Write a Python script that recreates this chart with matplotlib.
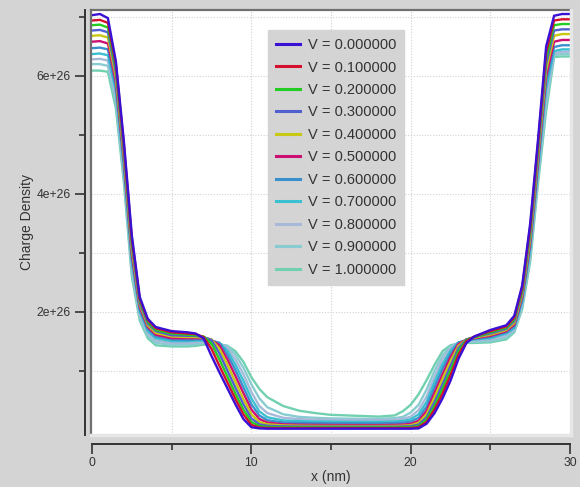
import matplotlib
matplotlib.use("Agg")
import matplotlib.pyplot as plt
from matplotlib.lines import Line2D
import numpy as np

plt.rcParams['font.family'] = ['Liberation Sans', 'DejaVu Sans']

# ---------------- data ----------------
x_nm = [0, 0.5, 1.0, 1.5, 2.0, 2.5, 3.0, 3.5, 4.0, 5.0, 6.0, 6.5, 7.0, 7.5, 8.0, 8.5,
        9.0, 9.5, 10.0, 10.5, 11.0, 12.0, 13.0, 14.0, 15.0, 16.0, 17.0, 18.0, 19.0,
        19.5, 20.0, 20.5, 21.0, 21.5, 22.0, 22.5, 23.0, 23.5, 24.0, 25.0, 26.0, 26.5,
        27.0, 27.5, 28.0, 28.5, 29.0, 29.5, 30.0]

voltages = [0.0, 0.1, 0.2, 0.3, 0.4, 0.5, 0.6, 0.7, 0.8, 0.9, 1.0]
series_labels = ["V = %.6f" % v for v in voltages]

# charge density in units of 1e26, one column per x position, rows = V index
cols = [
    [7.03, 6.94, 6.86, 6.77, 6.68, 6.58, 6.47, 6.37, 6.28, 6.20, 6.09],   # 0
    [7.05, 6.95, 6.87, 6.78, 6.69, 6.59, 6.48, 6.38, 6.29, 6.20, 6.09],   # 0.5
    [6.98, 6.90, 6.82, 6.74, 6.65, 6.55, 6.45, 6.35, 6.26, 6.17, 6.07],   # 1.0
    [6.25, 6.20, 6.13, 6.06, 5.98, 5.90, 5.82, 5.74, 5.65, 5.55, 5.45],   # 1.5
    [4.90, 4.84, 4.78, 4.72, 4.65, 4.58, 4.51, 4.44, 4.37, 4.29, 4.20],   # 2.0
    [3.30, 3.24, 3.18, 3.12, 3.05, 2.98, 2.91, 2.84, 2.76, 2.68, 2.60],   # 2.5
    [2.25, 2.22, 2.19, 2.15, 2.12, 2.08, 2.04, 2.00, 1.95, 1.90, 1.85],   # 3.0
    [1.88, 1.86, 1.83, 1.80, 1.77, 1.74, 1.71, 1.67, 1.63, 1.59, 1.55],   # 3.5
    [1.74, 1.72, 1.69, 1.67, 1.64, 1.61, 1.58, 1.55, 1.51, 1.47, 1.43],   # 4.0
    [1.67, 1.65, 1.63, 1.60, 1.58, 1.55, 1.53, 1.50, 1.47, 1.44, 1.41],   # 5.0
    [1.65, 1.63, 1.61, 1.59, 1.57, 1.55, 1.52, 1.50, 1.47, 1.44, 1.41],   # 6.0
    [1.63, 1.62, 1.60, 1.59, 1.57, 1.55, 1.53, 1.51, 1.48, 1.45, 1.42],   # 6.5
    [1.55, 1.57, 1.58, 1.57, 1.56, 1.55, 1.53, 1.51, 1.49, 1.47, 1.44],   # 7.0
    [1.25, 1.37, 1.46, 1.52, 1.53, 1.52, 1.51, 1.50, 1.49, 1.47, 1.45],   # 7.5
    [0.97, 1.08, 1.19, 1.29, 1.37, 1.43, 1.47, 1.47, 1.46, 1.45, 1.44],   # 8.0
    [0.70, 0.80, 0.90, 1.00, 1.10, 1.19, 1.27, 1.34, 1.39, 1.42, 1.42],   # 8.5
    [0.43, 0.52, 0.61, 0.71, 0.81, 0.91, 1.01, 1.10, 1.19, 1.27, 1.33],   # 9.0
    [0.18, 0.26, 0.34, 0.43, 0.52, 0.62, 0.72, 0.83, 0.94, 1.05, 1.15],   # 9.5
    [0.04, 0.08, 0.13, 0.19, 0.26, 0.34, 0.43, 0.53, 0.64, 0.77, 0.89],   # 10.0
    [0.02, 0.035, 0.06, 0.09, 0.13, 0.18, 0.24, 0.31, 0.40, 0.53, 0.69],  # 10.5
    [0.015, 0.028, 0.045, 0.065, 0.09, 0.12, 0.16, 0.21, 0.28, 0.38, 0.55],  # 11
    [0.015, 0.027, 0.040, 0.055, 0.070, 0.090, 0.120, 0.155, 0.200, 0.260, 0.40],  # 12
    [0.015, 0.027, 0.040, 0.052, 0.065, 0.083, 0.113, 0.143, 0.178, 0.215, 0.32],  # 13
    [0.015, 0.027, 0.039, 0.050, 0.062, 0.080, 0.109, 0.137, 0.168, 0.200, 0.28],  # 14
    [0.015, 0.027, 0.039, 0.050, 0.061, 0.078, 0.107, 0.134, 0.163, 0.190, 0.25],  # 15
    [0.015, 0.027, 0.038, 0.049, 0.060, 0.077, 0.105, 0.131, 0.160, 0.186, 0.24],  # 16
    [0.015, 0.026, 0.038, 0.049, 0.060, 0.076, 0.104, 0.130, 0.158, 0.183, 0.23],  # 17
    [0.015, 0.026, 0.038, 0.049, 0.060, 0.076, 0.104, 0.130, 0.158, 0.183, 0.22],  # 18
    [0.015, 0.027, 0.039, 0.050, 0.062, 0.080, 0.110, 0.137, 0.167, 0.195, 0.24],  # 19
    [0.015, 0.027, 0.040, 0.052, 0.065, 0.085, 0.117, 0.147, 0.180, 0.215, 0.31],  # 19.5
    [0.015, 0.028, 0.042, 0.057, 0.074, 0.098, 0.135, 0.175, 0.220, 0.290, 0.42],  # 20
    [0.02, 0.04, 0.06, 0.085, 0.115, 0.15, 0.20, 0.26, 0.33, 0.42, 0.60],  # 20.5
    [0.10, 0.13, 0.17, 0.21, 0.26, 0.32, 0.39, 0.47, 0.56, 0.68, 0.84],    # 21
    [0.28, 0.34, 0.40, 0.47, 0.55, 0.63, 0.72, 0.81, 0.90, 1.00, 1.10],    # 21.5
    [0.53, 0.61, 0.69, 0.77, 0.86, 0.94, 1.03, 1.11, 1.19, 1.26, 1.33],    # 22
    [0.83, 0.92, 1.00, 1.08, 1.16, 1.23, 1.29, 1.34, 1.38, 1.41, 1.43],    # 22.5
    [1.20, 1.27, 1.33, 1.38, 1.42, 1.45, 1.47, 1.48, 1.48, 1.47, 1.46],    # 23
    [1.47, 1.50, 1.52, 1.53, 1.53, 1.53, 1.52, 1.51, 1.50, 1.49, 1.47],    # 23.5
    [1.58, 1.58, 1.57, 1.57, 1.56, 1.55, 1.54, 1.53, 1.51, 1.49, 1.47],    # 24
    [1.69, 1.67, 1.65, 1.63, 1.61, 1.59, 1.57, 1.55, 1.53, 1.50, 1.48],    # 25
    [1.77, 1.75, 1.73, 1.71, 1.69, 1.67, 1.65, 1.63, 1.60, 1.56, 1.53],    # 26
    [1.93, 1.90, 1.87, 1.84, 1.81, 1.78, 1.75, 1.72, 1.69, 1.67, 1.65],    # 26.5
    [2.45, 2.41, 2.37, 2.33, 2.29, 2.25, 2.21, 2.17, 2.13, 2.09, 2.05],    # 27
    [3.50, 3.44, 3.37, 3.31, 3.24, 3.18, 3.11, 3.05, 2.98, 2.92, 2.85],    # 27.5
    [4.95, 4.88, 4.81, 4.73, 4.66, 4.58, 4.51, 4.43, 4.35, 4.28, 4.20],    # 28
    [6.50, 6.40, 6.30, 6.20, 6.10, 6.00, 5.90, 5.78, 5.65, 5.52, 5.40],    # 28.5
    [7.02, 6.94, 6.86, 6.77, 6.68, 6.58, 6.49, 6.42, 6.38, 6.35, 6.32],    # 29
    [7.05, 6.96, 6.88, 6.79, 6.71, 6.61, 6.52, 6.45, 6.41, 6.37, 6.33],    # 29.5
    [7.05, 6.96, 6.88, 6.79, 6.71, 6.61, 6.52, 6.45, 6.41, 6.37, 6.33],    # 30
]

colors = ['#3a10d4', '#d4102c', '#22cc22', '#5060d0', '#c8c812', '#cc1072',
          '#3a90cc', '#3ac0d0', '#a8b8d8', '#88ccd2', '#70d0b0']

xticks_major = [0, 10, 20, 30]
xtick_labels = ['0', '10', '20', '30']
xticks_minor = [5, 15, 25]
yticks_major = [2e26, 4e26, 6e26]
ytick_labels = ['2e+26', '4e+26', '6e+26']
yticks_minor = [1e26, 3e26, 5e26, 7e26]

# ---------------- figure ----------------
W, H = 580, 487
BG = '#d4d4d4'
TXT = '#333333'
fig = plt.figure(figsize=(W / 100, H / 100), dpi=100, facecolor=BG)
l, r, t, b = 91, 571, 10, 435
ax = fig.add_axes([l / W, 1 - b / H, (r - l) / W, (b - t) / H])
ax.set_facecolor('white')

data = np.array(cols).T * 1e26
for k in range(len(voltages) - 1, -1, -1):
    ax.plot(x_nm, data[k], color=colors[k], lw=1.7, label=series_labels[k],
            zorder=3 + (len(voltages) - k) * 0.01, solid_joinstyle='miter')

ax.set_xlim(-0.06, 30.06)
ax.set_ylim(-0.092e26, 7.118e26)

# grid
for gx in [5, 10, 15, 20, 25]:
    ax.axvline(gx, color='#d2d2d2', lw=0.8, ls=(0, (1, 1.5)), zorder=1)
for gy in yticks_minor + yticks_major:
    ax.axhline(gy, color='#d2d2d2', lw=0.8, ls=(0, (1, 1.5)), zorder=1)

# spines / axes
for s in ['top', 'right']:
    ax.spines[s].set_visible(False)
ax.spines['left'].set_position(('outward', 4.3))
ax.spines['bottom'].set_position(('outward', 6.5))
ax.spines['bottom'].set_bounds(0, 30)
for s in ['left', 'bottom']:
    ax.spines[s].set_color('#333333')
    ax.spines[s].set_linewidth(1.4)

# inner bevel frame
ax.add_line(Line2D([0, 0], [0, 1], transform=ax.transAxes, color='#707070', lw=1.6, clip_on=False, zorder=5))
ax.add_line(Line2D([0, 1], [1, 1], transform=ax.transAxes, color='#707070', lw=1.6, clip_on=False, zorder=5))
ax.add_line(Line2D([1, 1], [0, 1], transform=ax.transAxes, color='#e6e6e6', lw=2.5, clip_on=False, zorder=5))
ax.add_line(Line2D([0, 1], [0, 0], transform=ax.transAxes, color='#e6e6e6', lw=2.5, clip_on=False, zorder=5))

ax.set_xticks(xticks_major)
ax.set_xticklabels(xtick_labels)
ax.set_xticks(xticks_minor, minor=True)
ax.set_yticks(yticks_major)
ax.set_yticklabels(ytick_labels)
ax.set_yticks(yticks_minor, minor=True)
ax.tick_params(axis='both', which='major', length=7, width=1.2, color='#333333',
               labelsize=8.7, labelcolor=TXT)
ax.tick_params(axis='both', which='minor', length=4.5, width=1.2, color='#333333')
ax.tick_params(axis='y', which='both', pad=3.5)
ax.tick_params(axis='x', which='major', pad=2)

ax.set_xlabel('x (nm)', fontsize=10, color=TXT, labelpad=1)
ax.set_ylabel('Charge Density', fontsize=10, color=TXT, labelpad=2)

handles, labels = ax.get_legend_handles_labels()
handles, labels = handles[::-1], labels[::-1]
leg = ax.legend(handles, labels, loc='upper left', bbox_to_anchor=(0.3695, 0.9527),
                borderaxespad=0, frameon=True, fancybox=False, fontsize=10.5,
                labelspacing=0.58, handlelength=1.6, handletextpad=0.55,
                borderpad=0.55, labelcolor=TXT)
leg.get_frame().set_facecolor(BG)
leg.get_frame().set_edgecolor(BG)
leg.get_frame().set_alpha(1)
for h in leg.legend_handles:
    h.set_linewidth(2.2)
leg.set_zorder(10)

fig.savefig('out.png', dpi=100, facecolor=BG)
